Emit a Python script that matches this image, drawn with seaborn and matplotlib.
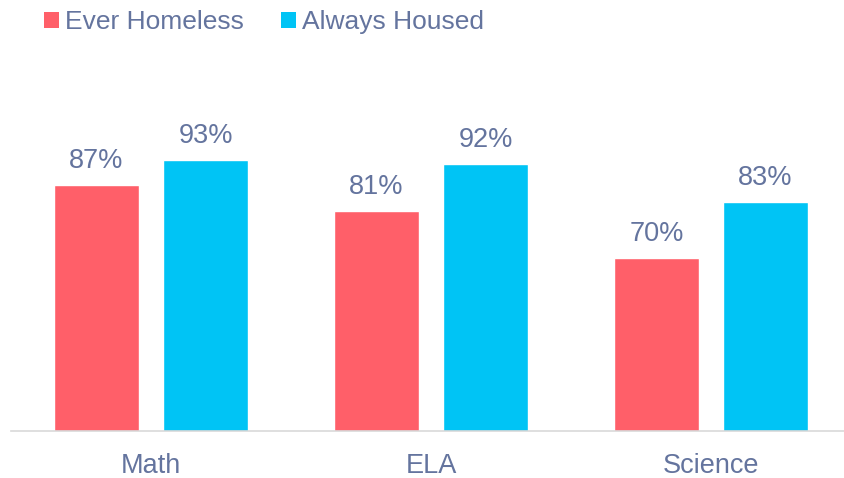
import matplotlib
matplotlib.use("Agg")
import matplotlib.pyplot as plt
import seaborn as sns
import pandas as pd
from matplotlib.patches import Patch

categories = ["Math", "ELA", "Science"]
series_names = ["Ever Homeless", "Always Housed"]
ever_homeless = [87, 81, 70]
always_housed = [93, 92, 83]

df = pd.DataFrame({
    "subject": categories * 2,
    "group": [series_names[0]] * 3 + [series_names[1]] * 3,
    "value": ever_homeless + always_housed,
})

sns.set_theme(style="white")
plt.rcParams["font.family"] = ["Liberation Sans", "DejaVu Sans"]

red = "#FF5F69"
blue = "#00C4F5"
txt = "#64749E"

fig = plt.figure(figsize=(8.44, 4.78), dpi=100)
ax = fig.add_axes([11/844, 47/478, 833/844, 301/478])

sns.barplot(data=df, x="subject", y="value", hue="group", order=categories,
            hue_order=series_names, palette=[red, blue], width=0.779, gap=0.22,
            ax=ax, legend=False, saturation=1)

ax.set_ylim(29.4, 100)
ax.set_xlim(-0.5, 2.475)
ax.set_xlabel("")
ax.set_ylabel("")
ax.set_yticks([])
for s in ["top", "right", "left"]:
    ax.spines[s].set_visible(False)
ax.spines["bottom"].set_color("#D9D9D9")
ax.spines["bottom"].set_linewidth(1.2)
ax.tick_params(axis="x", length=0, pad=16, labelsize=19.5, colors=txt)

for cont in ax.containers:
    ax.bar_label(cont, labels=[f"{v:.0f}%" for v in cont.datavalues],
                 padding=8, fontsize=19.5, color=txt)

handles = [Patch(facecolor=red, edgecolor="none"), Patch(facecolor=blue, edgecolor="none")]
fig.legend(handles, series_names, loc="upper left", bbox_to_anchor=(0.043, 0.995),
           ncol=2, frameon=False, fontsize=19, labelcolor=txt,
           handlelength=0.55, handleheight=0.55, handletextpad=0.25,
           columnspacing=1.4, borderaxespad=0, borderpad=0.3)

fig.savefig("out.png", dpi=100)
